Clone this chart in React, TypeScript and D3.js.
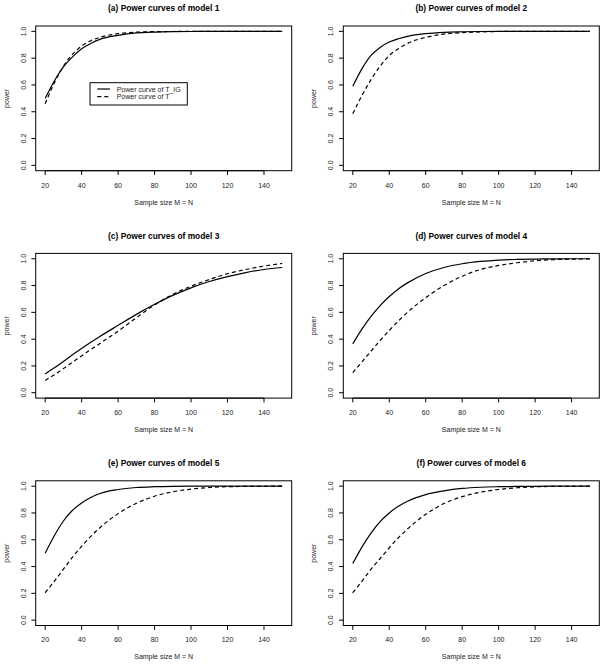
import React from "react";
import * as d3 from "d3";

const sampleSizes = [20, 25, 30, 35, 40, 45, 50, 60, 70, 80, 90, 100, 110, 120, 130, 140, 150];

const titles = [
  "(a) Power curves of model 1",
  "(b) Power curves of model 2",
  "(c) Power curves of model 3",
  "(d) Power curves of model 4",
  "(e) Power curves of model 5",
  "(f) Power curves of model 6",
];

// Power curve of T_IG (solid)
const powerTIG1 = [0.50, 0.63, 0.735, 0.81, 0.87, 0.91, 0.94, 0.97, 0.988, 0.995, 0.998, 0.999, 1, 1, 1, 1, 1];
const powerTIG2 = [0.59, 0.72, 0.82, 0.88, 0.92, 0.945, 0.963, 0.983, 0.993, 0.997, 0.999, 1, 1, 1, 1, 1, 1];
const powerTIG3 = [0.14, 0.186, 0.234, 0.283, 0.33, 0.376, 0.42, 0.503, 0.585, 0.66, 0.727, 0.783, 0.83, 0.867, 0.897, 0.92, 0.935];
const powerTIG4 = [0.365, 0.475, 0.57, 0.65, 0.718, 0.775, 0.82, 0.89, 0.935, 0.963, 0.98, 0.99, 0.995, 0.998, 0.999, 1, 1];
const powerTIG5 = [0.50, 0.63, 0.74, 0.82, 0.875, 0.915, 0.945, 0.975, 0.99, 0.996, 0.999, 1, 1, 1, 1, 1, 1];
const powerTIG6 = [0.423, 0.545, 0.65, 0.735, 0.80, 0.85, 0.888, 0.937, 0.965, 0.983, 0.992, 0.996, 0.998, 0.999, 1, 1, 1];

// Power curve of T (dashed)
const powerT1 = [0.46, 0.615, 0.74, 0.83, 0.89, 0.93, 0.955, 0.983, 0.994, 0.998, 0.999, 1, 1, 1, 1, 1, 1];
const powerT2 = [0.385, 0.52, 0.64, 0.74, 0.82, 0.87, 0.91, 0.955, 0.98, 0.99, 0.996, 0.999, 1, 1, 1, 1, 1];
const powerT3 = [0.092, 0.135, 0.18, 0.228, 0.276, 0.322, 0.368, 0.46, 0.56, 0.655, 0.735, 0.795, 0.845, 0.888, 0.92, 0.945, 0.965];
const powerT4 = [0.15, 0.23, 0.31, 0.39, 0.465, 0.535, 0.60, 0.71, 0.80, 0.87, 0.92, 0.95, 0.97, 0.985, 0.993, 0.997, 0.999];
const powerT5 = [0.204, 0.29, 0.38, 0.47, 0.552, 0.625, 0.69, 0.795, 0.872, 0.925, 0.958, 0.978, 0.99, 0.996, 0.998, 0.999, 1];
const powerT6 = [0.204, 0.29, 0.38, 0.46, 0.54, 0.615, 0.68, 0.79, 0.87, 0.922, 0.955, 0.975, 0.988, 0.995, 0.998, 0.999, 1];

const solidSeries = [powerTIG1, powerTIG2, powerTIG3, powerTIG4, powerTIG5, powerTIG6];
const dashedSeries = [powerT1, powerT2, powerT3, powerT4, powerT5, powerT6];

const xTicks = [20, 40, 60, 80, 100, 120, 140];
const yTicks = [0, 0.2, 0.4, 0.6, 0.8, 1.0];
const legendLabels = ["Power curve of T_IG", "Power curve of T"];

const FONT = "'Liberation Sans', Arial, Helvetica, sans-serif";

function Panel({ idx }: { idx: number }) {
  const col = idx % 2;
  const row = Math.floor(idx / 2);
  const left = 35.7 + col * 307.6;
  const top = 26 + row * 227.4;
  const w = 256;
  const h = 144.7;
  const bottom = top + h;
  const x = d3.scaleLinear().domain([14.8, 155.2]).range([left, left + w]);
  const y = d3.scaleLinear().domain([-0.04, 1.04]).range([bottom, top]);
  const line = d3
    .line<number>()
    .x((_, i) => x(sampleSizes[i]))
    .y((d) => y(d))
    .curve(d3.curveMonotoneX);
  const solid = solidSeries[idx];
  const dashed = dashedSeries[idx];
  const tickLen = 4.3;
  return (
    <g>
      <text
        x={left + w / 2}
        y={top - 17.7}
        textAnchor="middle"
        dominantBaseline="central"
        fontWeight="bold"
        fontSize={8.4}
        fontFamily={FONT}
      >
        {titles[idx]}
      </text>
      <path d={line(dashed) || ""} fill="none" stroke="#000" strokeWidth={1.2} strokeDasharray="4,3" />
      <path d={line(solid) || ""} fill="none" stroke="#000" strokeWidth={1.2} />
      <rect x={left} y={top} width={w} height={h} fill="none" stroke="#000" strokeWidth={1} />
      {/* x axis */}
      <line x1={x(xTicks[0])} x2={x(xTicks[xTicks.length - 1])} y1={bottom} y2={bottom} stroke="#000" />
      {xTicks.map((t) => (
        <g key={"x" + t}>
          <line x1={x(t)} x2={x(t)} y1={bottom} y2={bottom + tickLen} stroke="#000" />
          <text
            x={x(t)}
            y={bottom + 14.4}
            textAnchor="middle"
            dominantBaseline="central"
            fontSize={7}
            fontFamily={FONT}
            fill="#222"
          >
            {t}
          </text>
        </g>
      ))}
      {/* y axis */}
      {yTicks.map((t) => (
        <g key={"y" + t}>
          <line x1={left} x2={left - tickLen} y1={y(t)} y2={y(t)} stroke="#000" />
          <text
            transform={`translate(${left - 12.4},${y(t)}) rotate(-90)`}
            textAnchor="middle"
            dominantBaseline="central"
            fontSize={7}
            fontFamily={FONT}
            fill="#222"
          >
            {t.toFixed(1)}
          </text>
        </g>
      ))}
      <text
        x={left + w / 2}
        y={bottom + 31.3}
        textAnchor="middle"
        dominantBaseline="central"
        fontSize={7}
        fontFamily={FONT}
        fill="#222"
      >
        Sample size M = N
      </text>
      <text
        transform={`translate(${left - 29.7},${top + h / 2}) rotate(-90)`}
        textAnchor="middle"
        dominantBaseline="central"
        fontSize={7}
        fontFamily={FONT}
        fill="#222"
      >
        power
      </text>
      {idx === 0 && (
        <g>
          <rect x={90} y={82.7} width={97.3} height={22.3} fill="#fff" stroke="#000" strokeWidth={1} />
          <line x1={97.3} x2={110} y1={89} y2={89} stroke="#000" strokeWidth={1.2} />
          <line x1={97.3} x2={110} y1={96.7} y2={96.7} stroke="#000" strokeWidth={1.2} strokeDasharray="4,3" />
          <text x={116.7} y={89} dominantBaseline="central" fontSize={7} fontFamily={FONT} fill="#222">
            {legendLabels[0]}
          </text>
          <text x={116.7} y={96.7} dominantBaseline="central" fontSize={7} fontFamily={FONT} fill="#222">
            {legendLabels[1]}
          </text>
        </g>
      )}
    </g>
  );
}

export default function App() {
  return (
    <svg
      width={605}
      height={666}
      style={{ position: "absolute", left: 0, top: 0, background: "#fff" }}
    >
      <rect x={0} y={0} width={605} height={666} fill="#fff" />
      {[0, 1, 2, 3, 4, 5].map((i) => (
        <Panel key={i} idx={i} />
      ))}
    </svg>
  );
}
